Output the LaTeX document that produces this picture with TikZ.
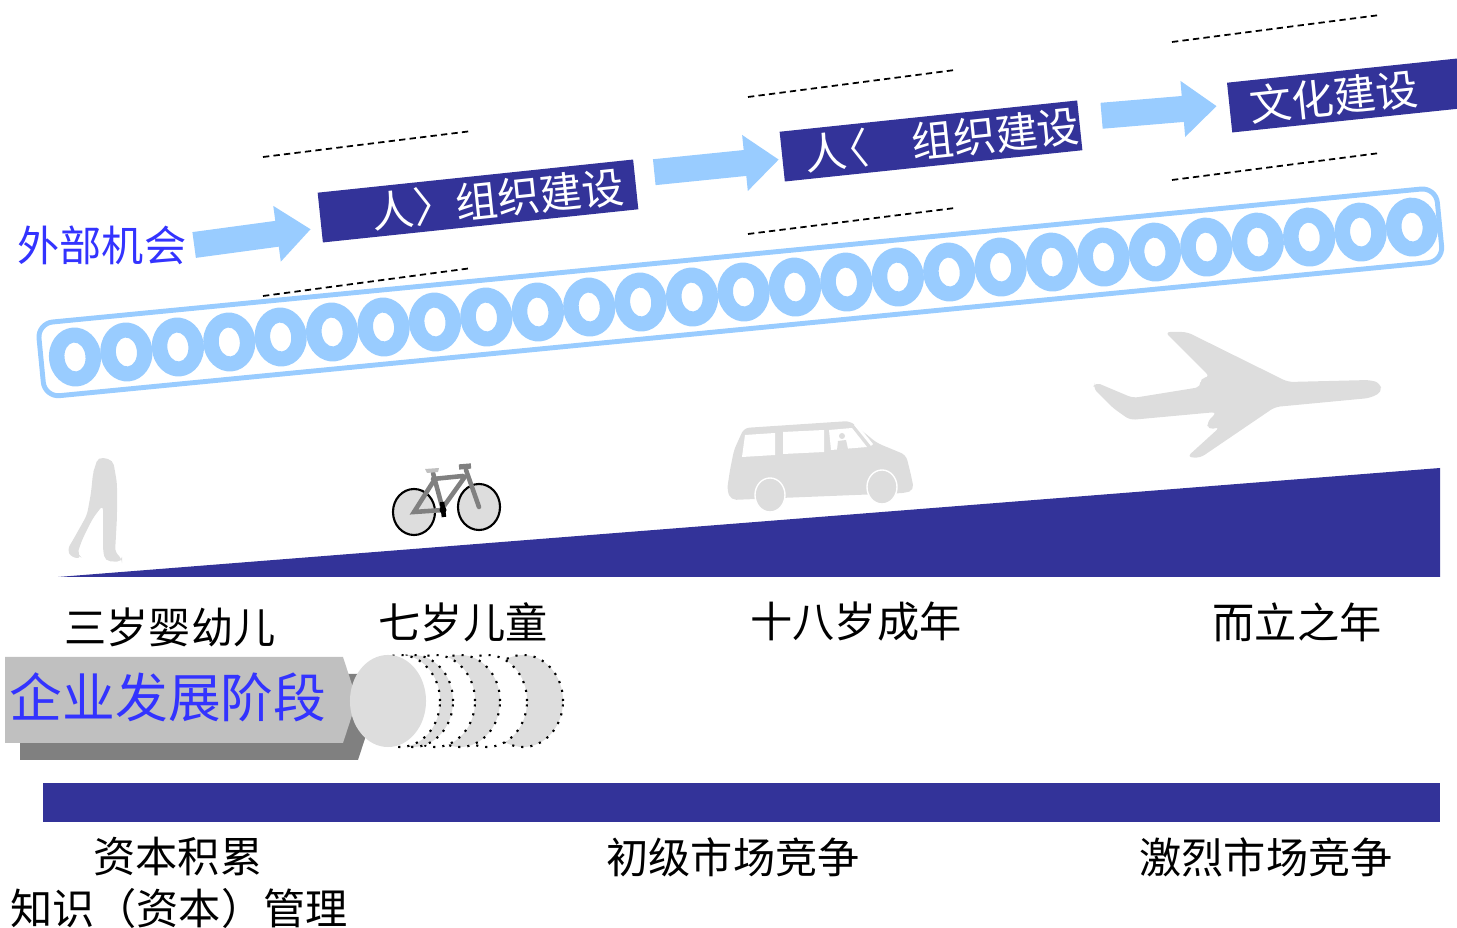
\documentclass[tikz,border=0pt]{standalone}
\usepackage{fontspec}
\newfontfamily\cjk{Noto Sans CJK SC}
\usepackage{tikz}
\usetikzlibrary{arrows.meta,calc}
\definecolor{BlueDark}{HTML}{333399}
\definecolor{BlueLight}{HTML}{99CCFF}
\definecolor{BlueText}{HTML}{3333FF}
\definecolor{GrayPale}{HTML}{DDDDDD}
\definecolor{GrayMid}{HTML}{C0C0C0}
\definecolor{GrayDark}{HTML}{808080}

\begin{document}
\begin{tikzpicture}[x=0.01cm, y=-0.01cm,
    cnlabel/.style={font=\cjk\fontsize{12pt}{14pt}\selectfont, inner sep=2pt},
    orgbox/.style={fill=BlueDark, text=white, rotate=6, minimum height=0.5cm,
        inner sep=0pt, font=\cjk\fontsize{12pt}{14pt}\selectfont},
    flow/.style={BlueLight, line width=0.26cm, -{Triangle[length=3.4mm, width=5.4mm]}},
    guide/.style={dash pattern=on 1.8pt off 1.2pt, line width=0.5pt},
    ring/.style={fill=BlueLight, even odd rule},
    clipart/.style={fill=GrayPale, rounded corners=1.5pt}]
    \useasboundingbox (0,0) rectangle (1457,928);
    \clip (0,0) rectangle (1457,928);
    %%Guide lines
    \draw[guide] (263,157) -- (472,131);
    \draw[guide] (263,296) -- (472,268);
    \draw[guide] (748,97) -- (955,70);
    \draw[guide] (748,234) -- (955,208);
    \draw[guide] (1172,42) -- (1380,15);
    \draw[guide] (1172,180) -- (1380,153);
    %%Steps
    \node[cnlabel, text=BlueText] (ext) at (102,245) {外部机会};
    \node[orgbox, minimum width=3.17cm] (org1) at (478,201) {\hspace*{4mm}人〉组织建设};
    \node[orgbox, minimum width=2.99cm] (org2) at (931,141) {\hspace*{2.2mm}人\kern-2mm〈\hspace*{4.3mm}组织建设};
    \node[orgbox, minimum width=2.6cm] (culture) at (1359,94) {文化建设\hspace*{5mm}};
    \draw[flow, shorten >=1mm] (ext.east) -- ($(org1.north west)!.7!(org1.south west)$);
    \draw[flow, shorten <=1.9mm, shorten >=0.3mm]
        ($(org1.north east)!.3!(org1.south east)$) -- ($(org2.north west)!.55!(org2.south west)$);
    \draw[flow, shorten <=2.2mm, shorten >=1.2mm]
        ($(org2.north east)!.35!(org2.south east)$) -- ($(culture.north west)!.45!(culture.south west)$);
    %%Chain
    \begin{scope}[shift={(75,357)}, rotate=5.55]
        \draw[BlueLight, line width=1.4pt, rounded corners=1.5mm] (-34,-37) rectangle (1371,37);
        \foreach \i in {0,...,26}
            \fill[ring] (\i*51.67,0) ellipse [x radius=2.6mm, y radius=2.95mm]
                        (\i*51.67,0) ellipse [x radius=1.05mm, y radius=1.45mm];
    \end{scope}
    %%Slope
    \fill[BlueDark] (58,577) -- (1440,468) -- (1440,577) -- cycle;
    %%Walker
    \fill[clipart] (98,457) -- (113,460) -- (117,483) -- (117,517) -- (115,553) -- (122,558)
        -- (122,562) -- (105,561) -- (103,550) -- (103,505) -- (93,518) -- (82,540)
        -- (77,555) -- (82,558) -- (72,558) -- (67,550) -- (73,540) -- (87,515)
        -- (91,493) -- (93,473) -- (95,467) -- cycle;
    %%Bicycle
    \draw[fill=GrayPale, line width=0.6pt] (414,512) ellipse [x radius=2.1mm, y radius=2.3mm];
    \draw[fill=GrayPale, line width=0.6pt] (479,507) ellipse [x radius=2.1mm, y radius=2.3mm];
    \draw[GrayDark, line width=1.3pt, line cap=round]
        (433,473) -- (443,510) -- (414,512) -- (433,482)
        (433,479) -- (463,476)
        (464,478) -- (444,506)
        (466,470) -- (479,507);
    \fill[GrayMid] (425,469) -- (439,468) -- (438,472) -- (427,473) -- cycle;
    \draw[GrayDark, line width=1.5pt] (459,467) -- (471,466);
    \draw[line width=1.3pt] (442,502) -- (444,517);
    \fill (443,510) circle [radius=0.35mm];
    %%Van
    \fill[clipart] (744,428) -- (850,421) -- (877,443) -- (906,455) -- (911,475) -- (914,490)
        -- (905,493) -- (731,500) -- (727,490) -- (730,470) -- (734,450) -- cycle;
    \draw[fill=GrayPale, draw=white, line width=0.4pt] (770,495) ellipse [x radius=1.5mm, y radius=1.7mm];
    \draw[fill=GrayPale, draw=white, line width=0.4pt] (882,487) ellipse [x radius=1.5mm, y radius=1.7mm];
    \fill[white] (745,435) -- (775,433) -- (775,455) -- (742,457) -- cycle;
    \fill[white] (783,432) -- (824,430) -- (824,452) -- (783,454) -- cycle;
    \fill[white] (829,430) -- (852,428) -- (867,447) -- (831,450) -- cycle;
    \draw[white, line width=0.8pt] (855,424) -- (872,445);
    \fill[GrayPale] (842,436) circle [radius=0.3mm];
    \fill[GrayPale] (837,450) -- (838,441) -- (846,440) -- (848,449) -- cycle;
    %%Plane
    \fill[clipart] (1370,380) -- (1288,382) -- (1187,332) -- (1165,332) -- (1210,377)
        -- (1200,378) -- (1201,387) -- (1133,398) -- (1095,382) -- (1093,388)
        -- (1113,408) -- (1130,420) -- (1217,412) -- (1207,422) -- (1208,430)
        -- (1220,427) -- (1187,457) -- (1200,458) -- (1275,407) -- (1370,398)
        -- (1382,392) -- (1380,383) -- cycle;
    %%Ages
    \node[cnlabel] (age3) at (170,627) {三岁婴幼儿};
    \node[cnlabel] (age7) at (463,622) {七岁儿童};
    \node[cnlabel] (age18) at (856,622) {十八岁成年};
    \node[cnlabel] (age30) at (1297,622) {而立之年};
    %%Stage marker
    \fill[GrayDark] (20,674) -- (358,674) -- (372,717) -- (358,760) -- (20,760) -- cycle;
    \fill[GrayMid] (5,657) -- (343,657) -- (357,700) -- (343,743) -- (5,743) -- cycle;
    \node[cnlabel, text=BlueText, font=\cjk\fontsize{15pt}{18pt}\selectfont] (stage) at (168,697) {企业发展阶段};
    \foreach \cx/\c in {523/GrayPale, 487/white, 460/GrayPale, 435/white, 413/GrayPale, 400/white}
        \draw[fill=\c, dotted, line width=0.6pt] (\cx,701) ellipse [x radius=4mm, y radius=4.6mm];
    \fill[GrayPale] (388,701) ellipse [x radius=3.8mm, y radius=4.6mm];
    %%Market
    \fill[BlueDark] (43,783) rectangle (1440,822);
    \node[cnlabel] (capital) at (178,857) {资本积累};
    \node[cnlabel] (knowledge) at (179,908) {知识（资本）管理};
    \node[cnlabel] (market1) at (733,857) {初级市场竞争};
    \node[cnlabel] (market2) at (1266,857) {激烈市场竞争};
\end{tikzpicture}
\end{document}
